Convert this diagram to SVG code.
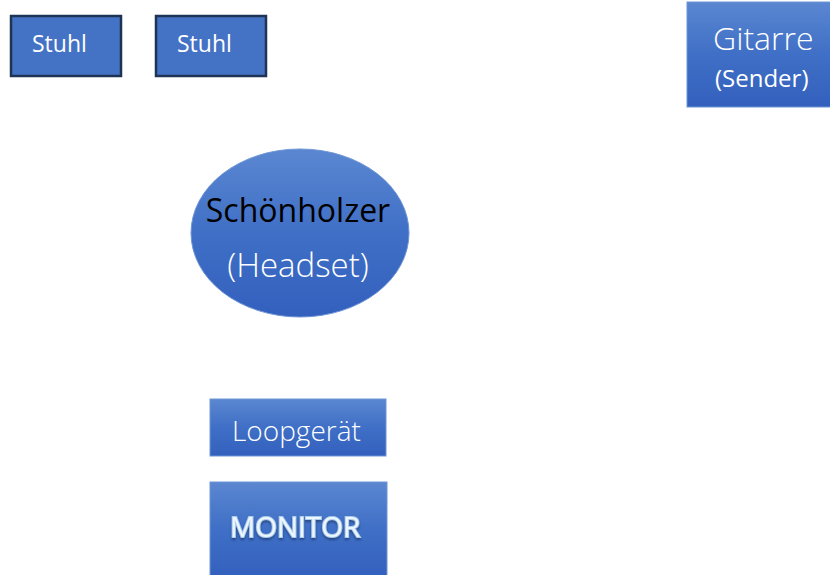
<svg xmlns="http://www.w3.org/2000/svg" width="830" height="575" viewBox="0 0 830 575">
<defs>
<linearGradient id="g" x1="0" y1="0" x2="0" y2="1">
<stop offset="0" stop-color="#5B87D1"/>
<stop offset="0.5" stop-color="#3F6FC6"/>
<stop offset="1" stop-color="#3360BD"/>
</linearGradient>
<filter id="glow" x="-10%" y="-30%" width="120%" height="160%">
<feGaussianBlur in="SourceAlpha" stdDeviation="1.2" result="b"/>
<feOffset dx="0" dy="1.5" in="b" result="o"/>
<feFlood flood-color="#1B2F5C" flood-opacity="0.6"/>
<feComposite in2="o" operator="in" result="s"/>
<feMerge><feMergeNode in="s"/><feMergeNode in="SourceGraphic"/></feMerge>
</filter>
</defs>
<style>
.chair{fill:#4472C4;stroke:#1F3455;stroke-width:2.5}
.box{fill:url(#g);stroke:#6E95D6;stroke-width:1}
text{font-family:"Open Sans","Liberation Sans",Arial,sans-serif;fill:#FFFFFF}
.light{font-weight:300}
.mon{fill:#EEF6FD;stroke:#A9CBEC;stroke-width:2;paint-order:stroke;font-weight:400}
</style>
<g id="stuhl1">
<rect class="chair" x="11" y="16" width="110" height="60"/>
<text x="32" y="52" font-size="23">Stuhl</text>
</g>
<g id="stuhl2">
<rect class="chair" x="156" y="16" width="110" height="60"/>
<text x="177" y="52" font-size="23">Stuhl</text>
</g>
<g id="gitarre">
<rect class="box" x="687" y="2" width="145" height="105"/>
<text class="light" x="713" y="50" font-size="32">Gitarre</text>
<text x="715" y="87" font-size="24">(Sender)</text>
</g>
<g id="schoenholzer">
<ellipse class="box" cx="300" cy="233" rx="109" ry="84"/>
<text x="298" y="222" font-size="32" text-anchor="middle" style="fill:#000000">Schönholzer</text>
<text class="light" x="298" y="277" font-size="33" text-anchor="middle">(Headset)</text>
</g>
<g id="loopgeraet">
<rect class="box" x="210" y="399" width="176" height="57"/>
<text class="light" x="232" y="441" font-size="28">Loopgerät</text>
</g>
<g id="monitor">
<rect class="box" x="210" y="482" width="177" height="95"/>
<text class="mon" x="230" y="537" font-size="28" filter="url(#glow)">MONITOR</text>
</g>
<g id="connectors"></g>
</svg>
